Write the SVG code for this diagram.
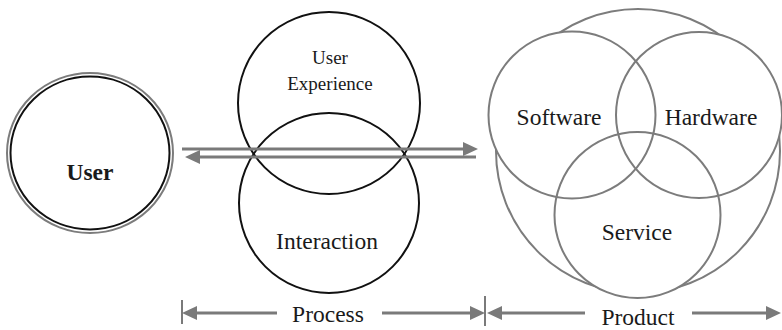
<svg xmlns="http://www.w3.org/2000/svg" width="782" height="330" viewBox="0 0 782 330">
  <style>
    text { font-family: "Liberation Serif", "Times New Roman", serif; fill: #1a1a1a; text-anchor: middle; }
    .big { font-size: 23.5px; }
    .small { font-size: 19px; }
    .bold { font-weight: bold; }
    .ring-black { fill: none; stroke: #111; stroke-width: 2; }
    .ring-gray { fill: none; stroke: #7c7c7c; stroke-width: 2; }
    .blank { fill: #fff; stroke: none; }
    .flow { fill: none; stroke: #7a7a7a; stroke-width: 3; }
    .tick { fill: none; stroke: #7a7a7a; stroke-width: 2; }
  </style>
  <defs>
    <marker id="head" viewBox="0 0 15 14" refX="0" refY="7" markerWidth="15" markerHeight="14" markerUnits="userSpaceOnUse" orient="auto">
      <path d="M0,0 L15,7 L0,14 z" fill="#7a7a7a"/>
    </marker>
  </defs>

  <rect width="782" height="330" fill="#fff"/>

  <!-- User: double ring -->
  <g id="user">
    <ellipse cx="90" cy="153" rx="83" ry="80" class="ring-gray" stroke-width="2.5"/>
    <ellipse cx="90" cy="153" rx="79.5" ry="76.5" class="ring-black"/>
    <text x="90" y="180" class="big bold">User</text>
  </g>

  <!-- Process: user experience over interaction -->
  <g id="user-experience">
    <circle cx="329" cy="103" r="91" class="ring-black"/>
    <text x="330" y="64" class="small">User</text>
    <text x="330" y="90" class="small">Experience</text>
  </g>
  <g id="interaction">
    <circle cx="329" cy="203" r="90" class="ring-black"/>
    <text x="327" y="249" class="big">Interaction</text>
  </g>

  <!-- Product: outer boundary shows only outside the three parts -->
  <g id="product">
    <circle cx="638" cy="151" r="142" class="ring-gray"/>
    <circle cx="572" cy="115" r="83.5" class="blank"/>
    <circle cx="699" cy="115" r="83" class="blank"/>
    <circle cx="637.5" cy="215" r="83" class="blank"/>
  </g>
  <g id="software">
    <circle cx="572" cy="115" r="83.5" class="ring-gray"/>
    <text x="559" y="125" class="big">Software</text>
  </g>
  <g id="hardware">
    <circle cx="699" cy="115" r="83" class="ring-gray"/>
    <text x="711" y="125" class="big">Hardware</text>
  </g>
  <g id="service">
    <circle cx="637.5" cy="215" r="83" class="ring-gray"/>
    <text x="637" y="240" class="big">Service</text>
  </g>

  <!-- Connectors: two-way exchange and span arrows -->
  <g id="connectors">
    <line x1="182" y1="149" x2="463" y2="149" class="flow" marker-end="url(#head)"/>
    <line x1="476" y1="157" x2="200" y2="157" class="flow" marker-end="url(#head)"/>
    <line x1="182" y1="300" x2="182" y2="324" class="tick"/>
    <line x1="485" y1="296" x2="485" y2="326" class="tick"/>
    <line x1="277" y1="313" x2="197" y2="313" class="flow" marker-end="url(#head)"/>
    <line x1="382" y1="313" x2="470" y2="313" class="flow" marker-end="url(#head)"/>
    <line x1="585" y1="313" x2="502" y2="313" class="flow" marker-end="url(#head)"/>
    <line x1="692" y1="313" x2="766" y2="313" class="flow" marker-end="url(#head)"/>
  </g>

  <g id="spans">
    <text x="328" y="322" class="big">Process</text>
    <text x="638" y="325" class="big">Product</text>
  </g>
</svg>
